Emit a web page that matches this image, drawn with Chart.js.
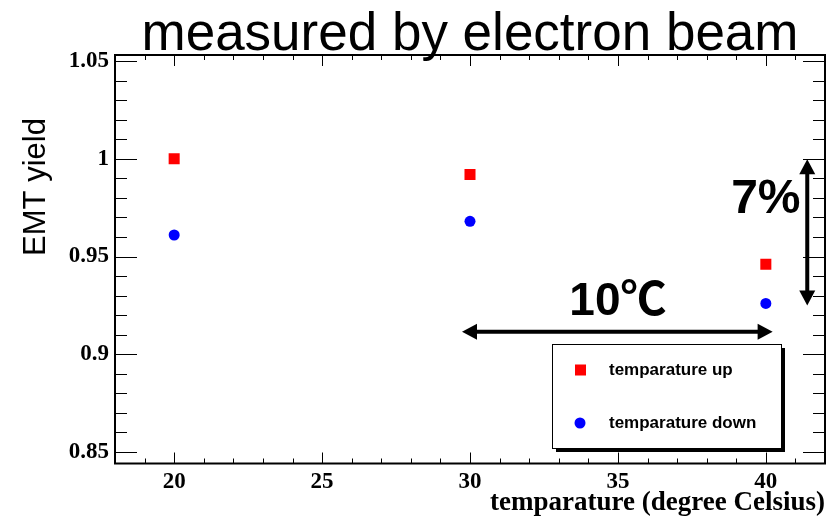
<!DOCTYPE html>
<html>
<head>
<meta charset="utf-8">
<script src="https://cdn.jsdelivr.net/npm/chart.js@4/dist/chart.umd.min.js"></script>
<style>
  html, body { margin: 0; padding: 0; background: #fff; }
  #wrap { width: 838px; height: 523px; position: relative; }
</style>
</head>
<body>
<div id="wrap"><canvas id="chart"></canvas></div>
<script>
// measured points
const temps = [20, 30, 40];
const yieldUp = [1.000, 0.992, 0.946];
const yieldDown = [0.961, 0.968, 0.926];

// axis ticks
const xTicks = [20, 25, 30, 35, 40];
const xMinor = [19, 21, 22, 23, 24, 26, 27, 28, 29, 31, 32, 33, 34, 36, 37, 38, 39, 41];
const yTicks = [0.85, 0.9, 0.95, 1, 1.05];
const yMinor = [0.86, 0.87, 0.88, 0.89, 0.91, 0.92, 0.93, 0.94, 0.96, 0.97, 0.98, 0.99, 1.01, 1.02, 1.03, 1.04];

const titleText = 'measured by electron beam';
const xTitle = 'temparature (degree Celsius)';
const yTitle = 'EMT yield';

// annotation arrows (data coords)
const spanArrowX = [29.73, 40.23];
const spanArrowY = 0.9115;
const dropArrowX = 41.4;
const dropArrowY = [0.9997, 0.925];

function arrow(ctx, x1, y1, x2, y2) {
  const ang = Math.atan2(y2 - y1, x2 - x1);
  const head = 15, half = 8;
  ctx.beginPath();
  ctx.moveTo(x1 + Math.cos(ang) * 6, y1 + Math.sin(ang) * 6);
  ctx.lineTo(x2 - Math.cos(ang) * 6, y2 - Math.sin(ang) * 6);
  ctx.lineWidth = 4;
  ctx.stroke();
  [[x1, y1, ang + Math.PI], [x2, y2, ang]].forEach(([x, y, a]) => {
    ctx.beginPath();
    ctx.moveTo(x, y);
    ctx.lineTo(x - Math.cos(a) * head - Math.sin(a) * half, y - Math.sin(a) * head + Math.cos(a) * half);
    ctx.lineTo(x - Math.cos(a) * head + Math.sin(a) * half, y - Math.sin(a) * head - Math.cos(a) * half);
    ctx.closePath();
    ctx.fill();
  });
}

const framePlugin = {
  id: 'frame',
  afterDraw(chart) {
    const { ctx, chartArea: a, scales } = chart;
    const xs = scales.x, ys = scales.y;
    ctx.save();
    ctx.strokeStyle = '#000';
    ctx.fillStyle = '#000';

    // ticks inside on all sides
    ctx.lineWidth = 1;
    ctx.beginPath();
    yTicks.concat(yMinor).forEach((v) => {
      const len = yTicks.includes(v) ? 22 : 12;
      const py = Math.round(ys.getPixelForValue(v)) + 0.5;
      ctx.moveTo(a.left, py); ctx.lineTo(a.left + len, py);
      ctx.moveTo(a.right, py); ctx.lineTo(a.right - len, py);
    });
    xTicks.concat(xMinor).forEach((v) => {
      const len = xTicks.includes(v) ? 11 : 5;
      const px = Math.round(xs.getPixelForValue(v)) + 0.5;
      ctx.moveTo(px, a.bottom); ctx.lineTo(px, a.bottom - len);
      ctx.moveTo(px, a.top); ctx.lineTo(px, a.top + len);
    });
    ctx.stroke();

    // frame
    ctx.lineWidth = 2;
    ctx.strokeRect(a.left, a.top, a.right - a.left, a.bottom - a.top);

    // title
    ctx.textAlign = 'center';
    ctx.textBaseline = 'alphabetic';
    ctx.font = '53px "Liberation Sans"';
    ctx.fillText(titleText, 470, 50);

    // axis titles
    ctx.font = 'bold 27px "Liberation Serif"';
    ctx.textAlign = 'right';
    ctx.fillText(xTitle, a.right, 510);
    ctx.save();
    ctx.translate(45, 187);
    ctx.rotate(-Math.PI / 2);
    ctx.textAlign = 'center';
    ctx.font = '31px "Liberation Sans"';
    ctx.fillText(yTitle, 0, 0);
    ctx.restore();

    // arrows and labels
    arrow(ctx, xs.getPixelForValue(spanArrowX[0]), ys.getPixelForValue(spanArrowY),
      xs.getPixelForValue(spanArrowX[1]), ys.getPixelForValue(spanArrowY));
    arrow(ctx, xs.getPixelForValue(dropArrowX), ys.getPixelForValue(dropArrowY[0]),
      xs.getPixelForValue(dropArrowX), ys.getPixelForValue(dropArrowY[1]));
    ctx.textAlign = 'center';
    ctx.font = 'bold 46px "Liberation Sans", "Noto Sans CJK JP", "DejaVu Sans"';
    ctx.fillText('10\u2103', xs.getPixelForValue(35), 315);
    ctx.font = 'bold 48px "Liberation Sans"';
    ctx.fillText('7%', xs.getPixelForValue(40), 213);

    // legend box with shadow
    const lx = 552, ly = 344, lw = 229, lh = 104;
    ctx.fillRect(lx + 4, ly + 4, lw, lh);
    ctx.fillStyle = '#fff';
    ctx.fillRect(lx, ly, lw, lh);
    ctx.lineWidth = 1;
    ctx.strokeStyle = '#000';
    ctx.strokeRect(lx + 0.5, ly + 0.5, lw, lh);
    ctx.font = 'bold 17px "Liberation Sans"';
    ctx.textAlign = 'left';
    chart.data.datasets.forEach((ds, i) => {
      const cy = 370 + i * 53;
      ctx.fillStyle = ds.backgroundColor;
      if (ds.pointStyle === 'rect') {
        ctx.fillRect(575, cy - 5.5, 11, 11);
      } else {
        ctx.beginPath();
        ctx.arc(580, cy, 5.5, 0, Math.PI * 2);
        ctx.fill();
      }
      ctx.fillStyle = '#000';
      ctx.fillText(ds.label, 609, cy + 5);
    });
    ctx.restore();
  },
};

new Chart(document.getElementById('chart'), {
  type: 'scatter',
  data: {
    datasets: [
      {
        label: 'temparature up',
        data: temps.map((t, i) => ({ x: t, y: yieldUp[i] })),
        pointStyle: 'rect',
        pointRadius: 7.8,
        pointBorderWidth: 0,
        backgroundColor: '#ff0000',
        borderColor: '#ff0000',
      },
      {
        label: 'temparature down',
        data: temps.map((t, i) => ({ x: t, y: yieldDown[i] })),
        pointStyle: 'circle',
        pointRadius: 5.5,
        pointBorderWidth: 0,
        backgroundColor: '#0000ff',
        borderColor: '#0000ff',
      },
    ],
  },
  options: {
    responsive: true,
    maintainAspectRatio: false,
    animation: false,
    layout: { padding: { left: 0, right: 13, top: 55, bottom: 0 } },
    plugins: { legend: { display: false }, tooltip: { enabled: false } },
    scales: {
      x: {
        type: 'linear',
        min: 18,
        max: 42,
        afterBuildTicks: (s) => { s.ticks = xTicks.map((v) => ({ value: v })); },
        afterFit: (s) => { s.height = 59.5; },
        grid: { display: false, drawTicks: false },
        border: { display: false },
        ticks: { color: '#000', font: { family: 'Liberation Serif', weight: 'bold', size: 23 }, padding: 5, maxRotation: 0, callback: (v) => String(v) },
      },
      y: {
        type: 'linear',
        min: 0.8441,
        max: 1.0531,
        afterBuildTicks: (s) => { s.ticks = yTicks.map((v) => ({ value: v })); },
        afterFit: (s) => { s.width = 115; },
        grid: { display: false, drawTicks: false },
        border: { display: false },
        ticks: { color: '#000', font: { family: 'Liberation Serif', weight: 'bold', size: 23 }, padding: 6, callback: (v) => String(v) },
      },
    },
  },
  plugins: [framePlugin],
});
</script>
</body>
</html>
